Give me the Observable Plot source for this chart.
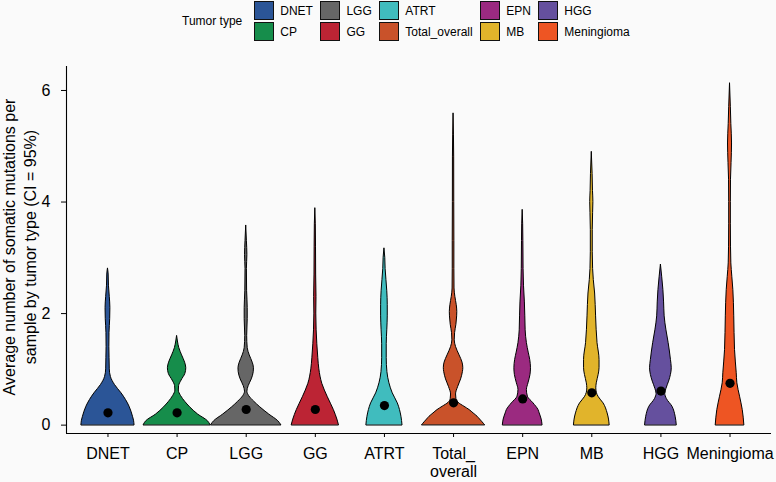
<!DOCTYPE html>
<html>
<head>
<meta charset="utf-8">
<script src="https://cdn.jsdelivr.net/npm/d3@7"></script>
<script src="https://cdn.jsdelivr.net/npm/@observablehq/plot@0.6"></script>
<style>
  body { margin: 0; background: #fafafa; font-family: "Liberation Sans", Arial, Helvetica, sans-serif; }
  #wrap { position: relative; width: 776px; height: 482px; overflow: hidden; }
  #chart { position: absolute; left: 0; top: 0; }
  #legend { position: absolute; left: 182px; top: 1px; display: flex; align-items: center; font-size: 12px; color: #000; z-index: 2; }
  #legend .ttl { margin-right: 12px; }
  #legend .grid { display: grid; grid-template-rows: 19px 19px; grid-auto-flow: column; column-gap: 7.5px; row-gap: 2px; }
  #legend .item { display: flex; align-items: center; }
  #legend .sw { box-sizing: border-box; width: 20px; height: 19px; border: 1px solid #111; margin-right: 6px; }
</style>
</head>
<body>
<div id="wrap">
  <div id="chart"></div>
  <div id="legend"></div>
</div>
<script>
// ---- Data ----
const categories = ["DNET", "CP", "LGG", "GG", "ATRT", "Total_overall", "EPN", "MB", "HGG", "Meningioma"];
const tickLabels = ["DNET", "CP", "LGG", "GG", "ATRT", "Total_\noverall", "EPN", "MB", "HGG", "Meningioma"];
const colors = ["#2B5597", "#168D4B", "#666666", "#BC2434", "#40BCBE", "#C9522A", "#9B2A80", "#E1B42B", "#65509E", "#EE5523"];
// point shown inside each violin
const means = [0.22, 0.22, 0.28, 0.28, 0.35, 0.40, 0.47, 0.58, 0.61, 0.75];
const yTicks = [0, 2, 4, 6];
const legendTitle = "Tumor type";
const yTitle = "Average number of somatic mutations per\nsample by tumor type (CI = 95%)";

// Violin profiles: [value, half-width in category-slot units]
const dnetProfile = [[0,0.384],[0.08,0.377],[0.15,0.362],[0.33,0.312],[0.45,0.261],[0.57,0.196],[0.72,0.101],[0.86,0.043],[1.0,0.026],[1.2,0.023],[1.4,0.020],[1.65,0.022],[1.9,0.032],[2.1,0.035],[2.3,0.026],[2.5,0.014],[2.7,0.010],[2.81,0]];
const cpProfile = [[0,0.483],[0.07,0.446],[0.19,0.304],[0.32,0.188],[0.42,0.116],[0.52,0.058],[0.62,0.025],[0.7,0.029],[0.8,0.065],[0.92,0.120],[1.02,0.133],[1.12,0.116],[1.25,0.072],[1.38,0.032],[1.5,0.012],[1.6,0]];
const lggProfile = [[0,0.507],[0.07,0.464],[0.19,0.333],[0.32,0.203],[0.42,0.116],[0.52,0.043],[0.6,0.017],[0.7,0.036],[0.82,0.080],[0.95,0.109],[1.02,0.112],[1.12,0.094],[1.25,0.051],[1.38,0.022],[1.6,0.014],[1.9,0.022],[2.1,0.022],[2.4,0.013],[2.8,0.010],[3.05,0.017],[3.3,0.010],[3.58,0]];
const ggProfile = [[0,0.341],[0.1,0.319],[0.27,0.268],[0.5,0.181],[0.74,0.101],[1.0,0.058],[1.2,0.043],[1.45,0.029],[1.7,0.019],[2.0,0.014],[2.3,0.017],[2.7,0.012],[3.2,0.010],[3.6,0.007],[3.89,0]];
const atrtProfile = [[0,0.261],[0.15,0.246],[0.39,0.193],[0.57,0.120],[0.75,0.072],[0.95,0.043],[1.2,0.033],[1.45,0.033],[1.7,0.041],[1.95,0.048],[2.15,0.048],[2.4,0.041],[2.6,0.029],[2.8,0.017],[3.0,0.012],[3.17,0]];
const totalProfile = [[0,0.454],[0.05,0.420],[0.1,0.384],[0.15,0.348],[0.21,0.290],[0.27,0.232],[0.33,0.157],[0.4,0.072],[0.47,0.041],[0.55,0.036],[0.68,0.065],[0.82,0.109],[0.95,0.135],[1.02,0.141],[1.12,0.130],[1.25,0.087],[1.4,0.036],[1.52,0.017],[1.65,0.022],[1.8,0.041],[1.95,0.052],[2.03,0.054],[2.15,0.046],[2.3,0.026],[2.45,0.014],[2.8,0.012],[3.3,0.012],[4.0,0.010],[4.8,0.009],[5.59,0]];
const epnProfile = [[0,0.287],[0.1,0.275],[0.21,0.246],[0.27,0.229],[0.39,0.157],[0.51,0.075],[0.63,0.061],[0.75,0.084],[0.9,0.113],[1.02,0.120],[1.17,0.109],[1.3,0.087],[1.47,0.061],[1.7,0.043],[1.95,0.038],[2.2,0.032],[2.5,0.019],[2.8,0.013],[3.3,0.010],[3.6,0.007],[3.86,0]];
const mbProfile = [[0,0.258],[0.1,0.249],[0.21,0.229],[0.39,0.170],[0.5,0.101],[0.58,0.072],[0.66,0.065],[0.75,0.072],[0.9,0.099],[1.02,0.112],[1.17,0.112],[1.47,0.083],[1.95,0.062],[2.36,0.048],[2.6,0.029],[2.8,0.019],[3.1,0.014],[3.5,0.014],[3.8,0.019],[4.0,0.023],[4.2,0.017],[4.5,0.012],[4.9,0]];
const hggProfile = [[0,0.229],[0.15,0.213],[0.33,0.167],[0.47,0.085],[0.56,0.063],[0.65,0.080],[0.78,0.118],[0.9,0.145],[1.02,0.157],[1.17,0.145],[1.47,0.112],[1.7,0.080],[1.95,0.054],[2.2,0.046],[2.42,0.036],[2.65,0.019],[2.88,0]];
const meningiomaProfile = [[0,0.207],[0.27,0.184],[0.51,0.145],[0.75,0.106],[0.93,0.097],[1.35,0.072],[1.95,0.061],[2.42,0.048],[2.66,0.033],[2.9,0.019],[3.2,0.014],[3.6,0.012],[4.0,0.012],[4.4,0.014],[4.7,0.022],[5.05,0.029],[5.4,0.019],[5.7,0.012],[6.13,0]];

const profiles = [dnetProfile, cpProfile, lggProfile, ggProfile, atrtProfile, totalProfile, epnProfile, mbProfile, hggProfile, meningiomaProfile];

// scale domains (ggplot-style expansion)
const xDomain = [-0.6, categories.length - 1 + 0.6];
const yDomain = [-0.15, 6.43];

// ---- Build tables ----
const violinRows = profiles.flatMap((p, i) => p.map(([v, hw]) => ({cat: categories[i], i, v, hw})));
const meanRows = categories.map((c, i) => ({cat: c, i, v: means[i]}));

const plot = Plot.plot({
  width: 776,
  height: 482,
  marginTop: 66,
  marginBottom: 49,
  marginLeft: 66,
  marginRight: 5,
  style: {background: "transparent", fontFamily: "'Liberation Sans', Arial, Helvetica, sans-serif", fontSize: "16px", color: "#000"},
  x: {domain: xDomain, axis: null},
  y: {domain: yDomain, axis: null},
  color: {domain: categories, range: colors},
  marks: [
    Plot.areaX(violinRows, {
      y: "v",
      x1: d => d.i - d.hw,
      x2: d => d.i + d.hw,
      z: "cat",
      fill: "cat",
      stroke: "#000",
      strokeWidth: 1,
      curve: "monotone-y"
    }),
    Plot.dot(meanRows, {x: "i", y: "v", r: 4.6, fill: "#000", stroke: null}),
    Plot.ruleX([xDomain[0]], {stroke: "#000", strokeWidth: 1.1}),
    Plot.ruleY([yDomain[0]], {stroke: "#000", strokeWidth: 1.1}),
    Plot.axisX({
      anchor: "bottom",
      ticks: d3.range(categories.length),
      tickFormat: i => tickLabels[i],
      tickSize: 4,
      tickPadding: 8,
      fontSize: 16,
      lineHeight: 1.15,
      label: null,
      stroke: "#000",
      fill: "#000"
    }),
    Plot.axisY({
      anchor: "left",
      ticks: yTicks,
      tickFormat: d => String(d),
      tickSize: 5,
      tickPadding: 11,
      fontSize: 16,
      label: null,
      stroke: "#000",
      fill: "#000"
    }),
    Plot.text([yTitle], {
      text: d => d,
      frameAnchor: "left",
      dx: -48,
      dy: -3,
      rotate: -90,
      fontSize: 16,
      lineHeight: 1.35,
      textAnchor: "middle",
      fill: "#000"
    })
  ]
});
document.getElementById("chart").appendChild(plot);

// ---- Legend ----
const legend = document.getElementById("legend");
const ttl = document.createElement("div");
ttl.className = "ttl";
ttl.textContent = legendTitle;
legend.appendChild(ttl);
const grid = document.createElement("div");
grid.className = "grid";
categories.forEach((c, i) => {
  const item = document.createElement("div");
  item.className = "item";
  const sw = document.createElement("div");
  sw.className = "sw";
  sw.style.background = colors[i];
  const lab = document.createElement("span");
  lab.textContent = c;
  item.appendChild(sw);
  item.appendChild(lab);
  grid.appendChild(item);
});
legend.appendChild(grid);
</script>
</body>
</html>
